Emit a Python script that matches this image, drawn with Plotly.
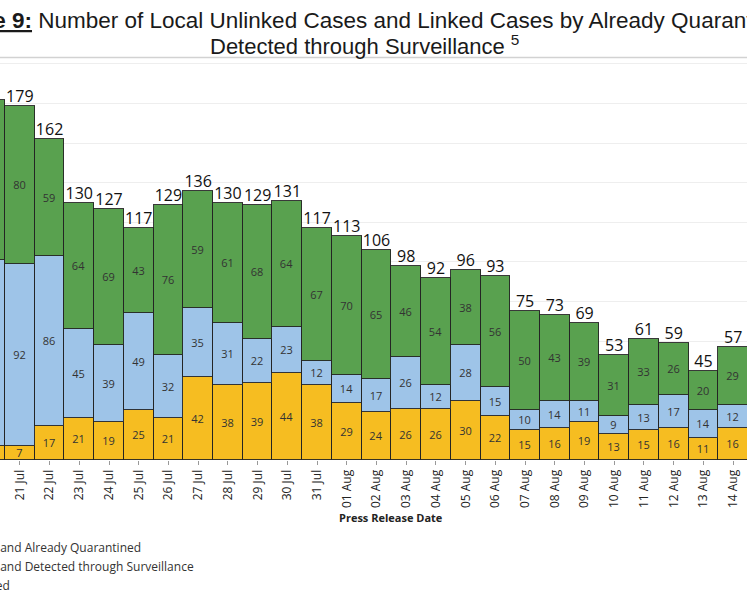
import plotly.graph_objects as go

dates = ["20 Jul", "21 Jul", "22 Jul", "23 Jul", "24 Jul", "25 Jul", "26 Jul", "27 Jul",
         "28 Jul", "29 Jul", "30 Jul", "31 Jul", "01 Aug", "02 Aug", "03 Aug", "04 Aug",
         "05 Aug", "06 Aug", "07 Aug", "08 Aug", "09 Aug", "10 Aug", "11 Aug", "12 Aug",
         "13 Aug", "14 Aug"]
unlinked = [7, 7, 17, 21, 19, 25, 21, 42, 38, 39, 44, 38, 29, 24, 26, 26, 30, 22, 15, 16,
            19, 13, 15, 16, 11, 16]
surveillance = [94, 92, 86, 45, 39, 49, 32, 35, 31, 22, 23, 12, 14, 17, 26, 12, 28, 15, 10,
                14, 11, 9, 13, 17, 14, 12]
quarantined = [81, 80, 59, 64, 69, 43, 76, 59, 61, 68, 64, 67, 70, 65, 46, 54, 38, 56, 50,
               43, 39, 31, 33, 26, 20, 29]
totals = [a + b + c for a, b, c in zip(unlinked, surveillance, quarantined)]

W, H = 747, 598
ML, MR, MT, MB = 0, 0, 58, 138
PH = H - MT - MB

def px_x(p):
    return p / (W - ML - MR)

def px_y(p):
    return 1 - (p - MT) / PH

outline = dict(color="rgba(35,35,35,0.9)", width=1)
seg_font = dict(family="Open Sans", size=11, color="#333333")

fig = go.Figure()
series = [
    ("Unlinked", unlinked, "#F6BD21"),
    ("Linked and Detected through Surveillance", surveillance, "#9EC4E8"),
    ("Linked and Already Quarantined", quarantined, "#59A14F"),
]
for name, vals, col in series:
    fig.add_trace(go.Bar(
        x=dates, y=vals, name=name,
        marker=dict(color=col, line=outline),
        text=vals, texttemplate="%{text}", textposition="inside",
        insidetextanchor="middle", textangle=0, textfont=seg_font,
    ))

fig.add_trace(go.Scatter(
    x=dates, y=totals, mode="text", text=totals, textposition="top center",
    textfont=dict(family="Open Sans", size=16, color="#111111"),
    showlegend=False, hoverinfo="skip", cliponaxis=False,
))

fig.update_layout(
    width=W, height=H,
    margin=dict(l=ML, r=MR, t=MT, b=MB, autoexpand=False),
    paper_bgcolor="white", plot_bgcolor="white",
    barmode="stack", bargap=0,
    uniformtext=dict(minsize=11, mode="show"),
    font=dict(family="Open Sans", color="#222222"),
    legend=dict(
        x=px_x(-80), y=px_y(533), xanchor="left", yanchor="top",
        traceorder="reversed", font=dict(family="Open Sans", size=12, color="#333333"),
        bgcolor="rgba(0,0,0,0)",
    ),
    xaxis=dict(
        type="category", range=[0.332, 25.466], tickangle=-90,
        ticks="outside", ticklen=4, tickcolor="#999999",
        tickfont=dict(family="Open Sans", size=12, color="#222222"),
        showgrid=False, showline=False, zeroline=False,
    ),
    yaxis=dict(
        range=[0, 203], dtick=20, showticklabels=False,
        showgrid=True, gridcolor="#EEEEEE", gridwidth=1,
        zeroline=False, showline=False,
    ),
    shapes=[dict(type="line", xref="paper", yref="paper", x0=0, x1=1,
                 y0=px_y(57.5), y1=px_y(57.5), line=dict(color="#D2D2D2", width=1.5))],
    annotations=[
        dict(xref="paper", yref="paper", x=px_x(-65), y=px_y(20), xanchor="left",
             yanchor="middle", showarrow=False,
             text="<b><u>Figure 9:</u></b> Number of Local Unlinked Cases and Linked Cases by Already Quarantined and",
             font=dict(family="Liberation Sans, Arial", size=22.5, color="#1a1a1a")),
        dict(xref="paper", yref="paper", x=px_x(208), y=px_y(45), xanchor="left",
             yanchor="middle", showarrow=False,
             text="Detected through Surveillance <sup>5</sup>",
             font=dict(family="Liberation Sans, Arial", size=22, color="#1a1a1a")),
        dict(xref="paper", yref="paper", x=px_x(391), y=px_y(517), xanchor="center",
             yanchor="middle", showarrow=False, text="<b>Press Release Date</b>",
             font=dict(family="Open Sans", size=11, color="#222222")),
    ],
)

fig.write_html("out.html", config={"displayModeBar": False},
               post_script="document.body.style.margin='0';document.body.style.overflow='hidden';")
